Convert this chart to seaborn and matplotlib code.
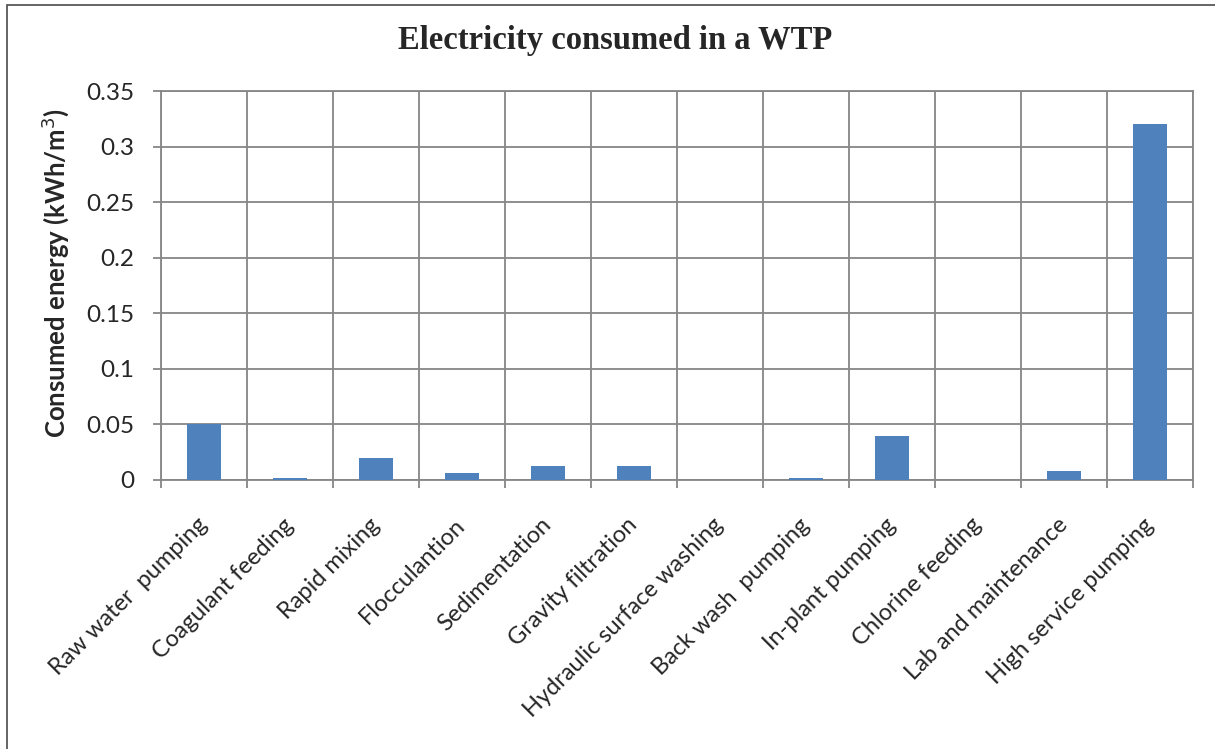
import matplotlib
matplotlib.use("Agg")
import matplotlib.pyplot as plt
import matplotlib.patches as mpatches
import numpy as np
import pandas as pd
import seaborn as sns

# Energy use per treatment step (kWh per cubic metre of treated water)
categories = [
    "Raw water  pumping",
    "Coagulant feeding",
    "Rapid mixing",
    "Flocculantion",
    "Sedimentation",
    "Gravity filtration",
    "Hydraulic surface washing",
    "Back wash  pumping",
    "In-plant pumping",
    "Chlorine feeding",
    "Lab and maintenance",
    "High service pumping",
]
energy = [0.050, 0.002, 0.020, 0.006, 0.013, 0.013, 0.0003, 0.002, 0.040, 0.0003, 0.008, 0.320]
y_ticks = [0, 0.05, 0.1, 0.15, 0.2, 0.25, 0.3, 0.35]
y_tick_labels = ["0", "0.05", "0.1", "0.15", "0.2", "0.25", "0.3", "0.35"]

df = pd.DataFrame({"step": categories, "energy": energy})

sns.set_theme(style="white")
plt.rcParams["font.family"] = ["Lato", "DejaVu Sans"]

W, H = 1215, 749
fig = plt.figure(figsize=(W / 100, H / 100), dpi=100)
left, right, top, bottom = 161, 1193, 91, 480
ax = fig.add_axes([left / W, 1 - bottom / H, (right - left) / W, (bottom - top) / H])

grid_color = "#868686"
sns.barplot(data=df, x="step", y="energy", color="#4F81BD", saturation=1,
            width=0.4, linewidth=0, ax=ax, zorder=3)

n = len(categories)
ax.set_xlim(-0.5, n - 0.5)
ax.set_ylim(0, 0.35)

# Grid: horizontal at value ticks, vertical at category boundaries
ax.set_yticks(y_ticks)
ax.set_yticklabels(y_tick_labels, fontsize=17.5)
ax.set_xticks(np.arange(n))
ax.set_xticks(np.arange(n + 1) - 0.5, minor=True)
ax.set_xticklabels(categories, rotation=45, ha="right", va="center",
                   rotation_mode="anchor", fontsize=17)
ax.tick_params(axis="x", which="major", length=0, pad=30)
ax.tick_params(axis="x", which="minor", length=6, width=1.3, color=grid_color,
               bottom=True)
ax.tick_params(axis="y", which="major", length=6, width=1.3, color=grid_color,
               left=True, pad=13)
ax.grid(False)
ax.xaxis.grid(True, which="minor", color=grid_color, linewidth=1.3, zorder=1)
ax.yaxis.grid(True, which="major", color=grid_color, linewidth=1.3, zorder=1)
ax.set_axisbelow(True)
for sp in ax.spines.values():
    sp.set_visible(True)
    sp.set_color(grid_color)
    sp.set_linewidth(1.3)

ax.set_xlabel("")
ax.set_ylabel("Consumed energy (kWh/m$^3$)", fontsize=18.5, fontweight="bold")
ax.yaxis.set_label_coords(-0.087, 0.532)

fig.text(615 / W, 1 - 40 / H, "Electricity consumed in a WTP",
         ha="center", va="center", fontsize=23.5, fontweight="bold",
         family="Liberation Serif")

# Chart frame
fig.patches.append(mpatches.Rectangle((7 / W, -0.05), 1.1, 1 - 5 / H + 0.05,
                                      transform=fig.transFigure, fill=False,
                                      edgecolor="#4a4a4a", linewidth=1.2))

fig.savefig("out.png", dpi=100)
